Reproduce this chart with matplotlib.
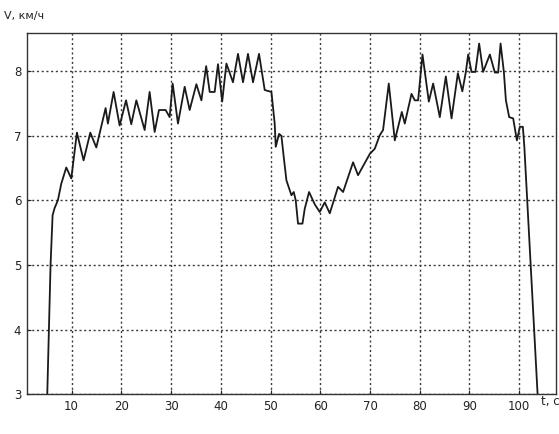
import matplotlib
matplotlib.use("Agg")
import matplotlib.pyplot as plt

# Speed profile over time
t = [5.11, 5.77, 6.18, 6.58, 7.24, 7.93, 8.93, 9.94, 11.07, 12.41, 13.76, 14.97,
     16.84, 17.3, 18.45, 19.66, 20.95, 22.0, 23.02, 24.69, 25.69, 26.7, 27.57,
     28.91, 29.72, 30.32, 31.39, 32.74, 33.74, 35.09, 36.1, 37.06, 37.77, 38.77,
     39.44, 40.28, 41.13, 42.45, 43.46, 44.47, 45.47, 46.48, 47.69, 48.83, 50.18,
     50.84, 51.05, 51.71, 52.19, 52.66, 53.2, 54.2, 54.67, 55.07, 55.53, 56.42,
     56.88, 57.75, 58.89, 59.9, 60.9, 61.91, 63.58, 64.59, 66.6, 67.6, 69.96,
     70.96, 71.97, 72.63, 73.78, 74.99, 76.4, 77.0, 77.67, 78.35, 79.0, 79.68,
     80.56, 81.83, 82.7, 84.04, 85.25, 86.4, 87.67, 88.57, 89.28, 89.74, 90.42,
     91.19, 91.95, 92.75, 94.1, 95.11, 95.77, 96.26, 96.92, 97.33, 97.99, 98.79,
     99.54, 100.14, 100.74, 101.04, 103.7]
v = [3.0, 5.0, 5.77, 5.88, 6.0, 6.26, 6.51, 6.34, 7.05, 6.62, 7.05, 6.82,
     7.43, 7.19, 7.68, 7.16, 7.55, 7.18, 7.55, 7.09, 7.68, 7.06, 7.4,
     7.4, 7.29, 7.81, 7.19, 7.76, 7.4, 7.8, 7.55, 8.08, 7.68, 7.68,
     8.11, 7.53, 8.12, 7.83, 8.27, 7.83, 8.27, 7.83, 8.27, 7.71, 7.68,
     7.19, 6.83, 7.03, 7.0, 6.67, 6.31, 6.08, 6.13, 6.0, 5.64, 5.64,
     5.87, 6.13, 5.94, 5.82, 5.97, 5.8, 6.21, 6.13, 6.59, 6.39, 6.72,
     6.8, 7.01, 7.09, 7.81, 6.93, 7.37, 7.19, 7.42, 7.65, 7.55, 7.55,
     8.26, 7.53, 7.81, 7.29, 7.92, 7.27, 7.97, 7.69, 7.99, 8.26, 7.99,
     7.99, 8.43, 7.99, 8.26, 7.98, 7.98, 8.43, 7.99, 7.55, 7.29, 7.27,
     6.93, 7.14, 7.14, 6.83, 3.0]

x_ticks = [10, 20, 30, 40, 50, 60, 70, 80, 90, 100]
y_ticks = [3, 4, 5, 6, 7, 8]

fig = plt.figure(figsize=(5.59, 4.34), dpi=100)
ax = fig.add_axes([0.048, 0.092, 0.9466, 0.833])

ax.plot(t, v, color="#1a1a1a", linewidth=1.3)

ax.set_xlim(1, 107.4)
ax.set_ylim(3, 8.6)
ax.set_xticks(x_ticks)
ax.set_yticks(y_ticks)
ax.tick_params(direction="in", length=3, labelsize=8.5, colors="#222222", pad=4)
ax.grid(True, linestyle=(0, (1.5, 1.9)), color="#3a3a3a", linewidth=1.0)

for s in ax.spines.values():
    s.set_color("#333333")
    s.set_linewidth(1.0)

fig.text(0.007, 0.962, "V, км/ч", fontsize=8, color="#222222", va="center", ha="left")
fig.text(0.968, 0.074, "t, с", fontsize=8.5, color="#222222", va="center", ha="left")

fig.savefig("out.png", dpi=100, facecolor="white")
